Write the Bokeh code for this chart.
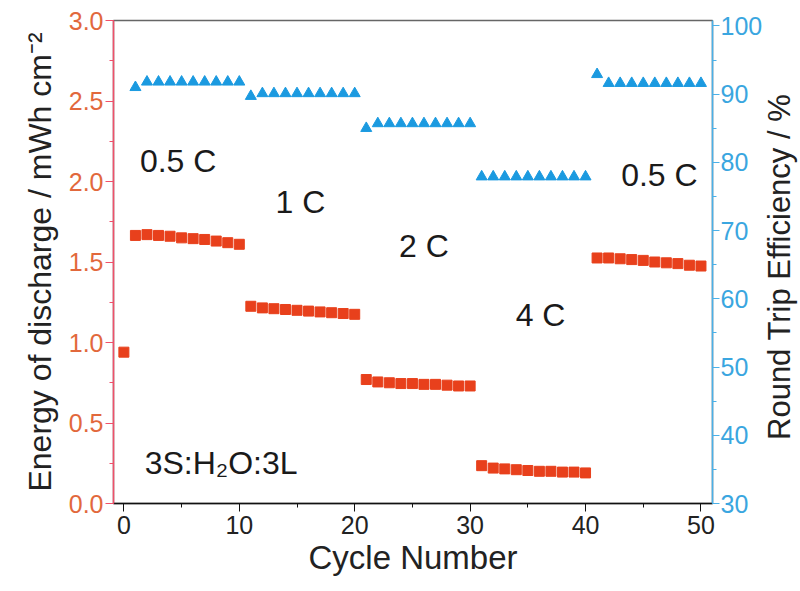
import math
from bokeh.plotting import figure
from bokeh.models import (Range1d, LinearAxis, SingleIntervalTicker, NumeralTickFormatter,
                          ColumnDataSource, Label)
from bokeh.core.properties import value
from bokeh.embed import file_html
from bokeh.resources import INLINE

# ---- data ----
energy_cycles = list(range(0, 51))
energy = [0.94,
          1.665, 1.67, 1.665, 1.66, 1.65, 1.645, 1.64, 1.63, 1.62, 1.61,
          1.225, 1.215, 1.21, 1.205, 1.20, 1.195, 1.19, 1.185, 1.18, 1.175,
          0.77, 0.755, 0.75, 0.745, 0.745, 0.74, 0.74, 0.735, 0.73, 0.73,
          0.235, 0.22, 0.215, 0.21, 0.205, 0.20, 0.20, 0.195, 0.195, 0.19,
          1.525, 1.525, 1.52, 1.515, 1.51, 1.50, 1.495, 1.49, 1.48, 1.475]
eff_cycles = list(range(1, 51))
efficiency = [91.0] + [91.8] * 9 + [89.7] + [90.1] * 9 + [85.0] + [85.7] * 9 + \
             [77.9] * 10 + [92.9] + [91.6] * 9
rate_labels = ["0.5 C", "1 C", "2 C", "4 C", "0.5 C"]
sample_label = "3S:H\u2082O:3L"
right_title = "Round Trip Efficiency / %"

FONT = "Liberation Sans"
RED = "#e8401c"
BLUE = "#1b9ae0"

p = figure(width=800, height=591, output_backend="svg", toolbar_location=None,
           x_range=Range1d(-0.9, 51.0), y_range=Range1d(0, 3.0),
           min_border_left=113, min_border_right=86, min_border_top=20, min_border_bottom=88)
p.extra_y_ranges = {"eff": Range1d(30, 100.8)}
p.xgrid.visible = False
p.ygrid.visible = False
p.outline_line_color = "#666666"
p.outline_line_width = 1.5
p.background_fill_color = "white"
p.border_fill_color = "white"

# glyphs
p.scatter(energy_cycles, energy, marker="square", size=10, fill_color=RED, line_color=RED)
p.scatter(eff_cycles, efficiency, marker="triangle", size=11, fill_color=BLUE, line_color=BLUE,
          y_range_name="eff")

# annotations
src = ColumnDataSource(dict(x=[4.7, 15.3, 26.0, 36.1, 46.4], y=[2.13, 1.87, 1.60, 1.17, 2.04],
                            t=rate_labels))
p.text(x="x", y="y", text="t", source=src, text_font=value(FONT), text_font_size="32px",
       text_color="#1a1a1a", text_align="center", text_baseline="middle")
p.text(x=[1.8], y=[0.25], text=[sample_label], text_font=value(FONT), text_font_size="32px",
       text_color="#1a1a1a", text_align="left", text_baseline="middle")

# bottom axis
xa = p.xaxis[0]
xa.ticker = SingleIntervalTicker(interval=10, num_minor_ticks=2)
xa.axis_label = "Cycle Number"
xa.axis_label_text_font = FONT
xa.axis_label_text_font_style = "normal"
xa.axis_label_text_font_size = "33px"
xa.axis_label_text_color = "#222222"
xa.axis_label_standoff = 2
xa.major_label_text_font = FONT
xa.major_label_text_font_size = "25px"
xa.major_label_text_color = "#222222"
xa.major_label_standoff = 4
xa.axis_line_color = "#111111"
xa.axis_line_width = 1.5
xa.major_tick_line_color = "#111111"
xa.minor_tick_line_color = "#111111"
xa.major_tick_out = 8
xa.major_tick_in = 0
xa.minor_tick_out = 4
xa.minor_tick_in = 0

# left axis
ya = p.yaxis[0]
ya.ticker = SingleIntervalTicker(interval=0.5, num_minor_ticks=2)
ya.formatter = NumeralTickFormatter(format="0.0")
ya.axis_label = "Energy of discharge / mWh cm\u207b\u00b2"
ya.axis_label_text_font = FONT
ya.axis_label_text_font_style = "normal"
ya.axis_label_text_font_size = "32px"
ya.axis_label_text_color = "#222222"
ya.axis_label_standoff = 8
ya.major_label_text_font = FONT
ya.major_label_text_font_size = "25px"
ya.major_label_text_color = "#e2683c"
ya.major_label_standoff = 2
ya.axis_line_color = "#f0506a"
ya.axis_line_width = 1.5
ya.major_tick_line_color = "#f0506a"
ya.minor_tick_line_color = "#f0506a"
ya.major_tick_out = 8
ya.major_tick_in = 0
ya.minor_tick_out = 4
ya.minor_tick_in = 0

# right axis (title drawn as a rotated label so it reads bottom-to-top)
ra = LinearAxis(y_range_name="eff")
ra.ticker = SingleIntervalTicker(interval=10, num_minor_ticks=2)
ra.major_label_text_font = FONT
ra.major_label_text_font_size = "25px"
ra.major_label_text_color = "#3aa6e0"
ra.major_label_standoff = 1
ra.axis_line_color = "#4ab0e8"
ra.axis_line_width = 1.5
ra.major_tick_line_color = "#4ab0e8"
ra.minor_tick_line_color = "#4ab0e8"
ra.major_tick_out = 7
ra.major_tick_in = 0
ra.minor_tick_out = 4
ra.minor_tick_in = 0
p.add_layout(ra, "right")

rt = Label(x=56.8, y=1.47, text=right_title, angle=math.pi / 2,
           text_font=FONT, text_font_size="31px", text_color="#222222",
           text_align="center", text_baseline="middle")
p.add_layout(rt, "right")

open("out.html", "w").write(file_html(p, INLINE))
